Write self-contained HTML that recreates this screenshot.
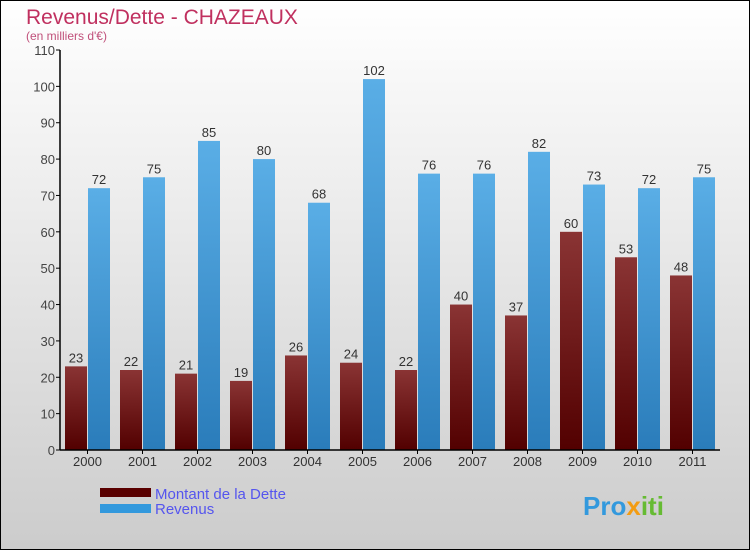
<!DOCTYPE html>
<html><head><meta charset="utf-8"><style>
body{margin:0;}
#c{width:750px;height:550px;position:relative;box-sizing:border-box;border:1px solid #000;background:linear-gradient(#fff,#ccc);font-family:"Liberation Sans",sans-serif;overflow:hidden;}
</style></head><body>
<div id="c">
<svg id="s" width="750" height="550" style="position:absolute;left:-1px;top:-1px">
<defs>
<linearGradient id="gr" x1="0" y1="0" x2="0" y2="1"><stop offset="0" stop-color="#8a3434"/><stop offset="1" stop-color="#520000"/></linearGradient>
<linearGradient id="gb" x1="0" y1="0" x2="0" y2="1"><stop offset="0" stop-color="#5aaee6"/><stop offset="1" stop-color="#2a7cba"/></linearGradient>
</defs>
<text x="26" y="24" font-size="21" fill="#c0305f">Revenus/Dette - CHAZEAUX</text>
<text x="26" y="40" font-size="12" fill="#c0507a">(en milliers d'€)</text>
<g id="g"></g>
<rect x="100" y="488" width="51" height="9" fill="#5a0000"/>
<text x="155" y="499" font-size="15" fill="#5555ee">Montant de la Dette</text>
<rect x="100" y="504" width="51" height="9" fill="#3399dd"/>
<text x="155" y="514" font-size="15" fill="#5555ee">Revenus</text>
<text x="583" y="515" font-size="26" font-weight="bold" fill="#3399dd">Pro<tspan fill="#f39c12">x</tspan><tspan fill="#66bb33">iti</tspan></text>
</svg>
</div>
<script>
const years=["2000","2001","2002","2003","2004","2005","2006","2007","2008","2009","2010","2011"];
const dette=[23,22,21,19,26,24,22,40,37,60,53,48];
const revenus=[72,75,85,80,68,102,76,76,82,73,72,75];
const yTicks=[0,10,20,30,40,50,60,70,80,90,100,110];
const NS="http://www.w3.org/2000/svg";
const g=document.getElementById('g');
const x0=60,y0=450,yMax=110,ph=400,gw=55;
const Y=v=>y0-v/yMax*ph;
const X=i=>x0+i*gw;
function el(t,a,txt){const e=document.createElementNS(NS,t);for(const k in a)e.setAttribute(k,a[k]);if(txt!==undefined)e.textContent=txt;g.appendChild(e);return e;}
yTicks.forEach(v=>{
 const l=el('line',{x1:x0-4,x2:x0,y1:Y(v),y2:Y(v),stroke:'#000'});
 
 
 const t=el('text',{x:x0-5,y:Y(v)+5,'font-size':13,fill:'#444','text-anchor':'end'},v);
 
 
});
years.forEach((yr,i)=>{
 const bx=X(i);
 const b1=el('rect',{x:bx+5,y:Y(dette[i]),width:22,height:y0-Y(dette[i]),fill:'url(#gr)'});
 
 
 const b2=el('rect',{x:bx+28,y:Y(revenus[i]),width:22,height:y0-Y(revenus[i]),fill:'url(#gb)'});
 
 
 const t1=el('text',{x:bx+16,y:Y(dette[i])-4,'font-size':13,fill:'#333','text-anchor':'middle'},dette[i]);
 
 
 const t2=el('text',{x:bx+39,y:Y(revenus[i])-4,'font-size':13,fill:'#333','text-anchor':'middle'},revenus[i]);
 
 
 const tk=el('line',{x1:bx+27.5,x2:bx+27.5,y1:y0,y2:y0+4,stroke:'#000'});
 
 
 const xl=el('text',{x:bx+27.5,y:y0+16,'font-size':13,fill:'#333','text-anchor':'middle'},yr);
 
 
});
const ya=el('line',{x1:x0,x2:x0,y1:Y(110),y2:y0,stroke:'#000','stroke-width':1.5});


const xa=el('line',{x1:x0,x2:x0+gw*12,y1:y0,y2:y0,stroke:'#000','stroke-width':1.5});


</script>
</body></html>
